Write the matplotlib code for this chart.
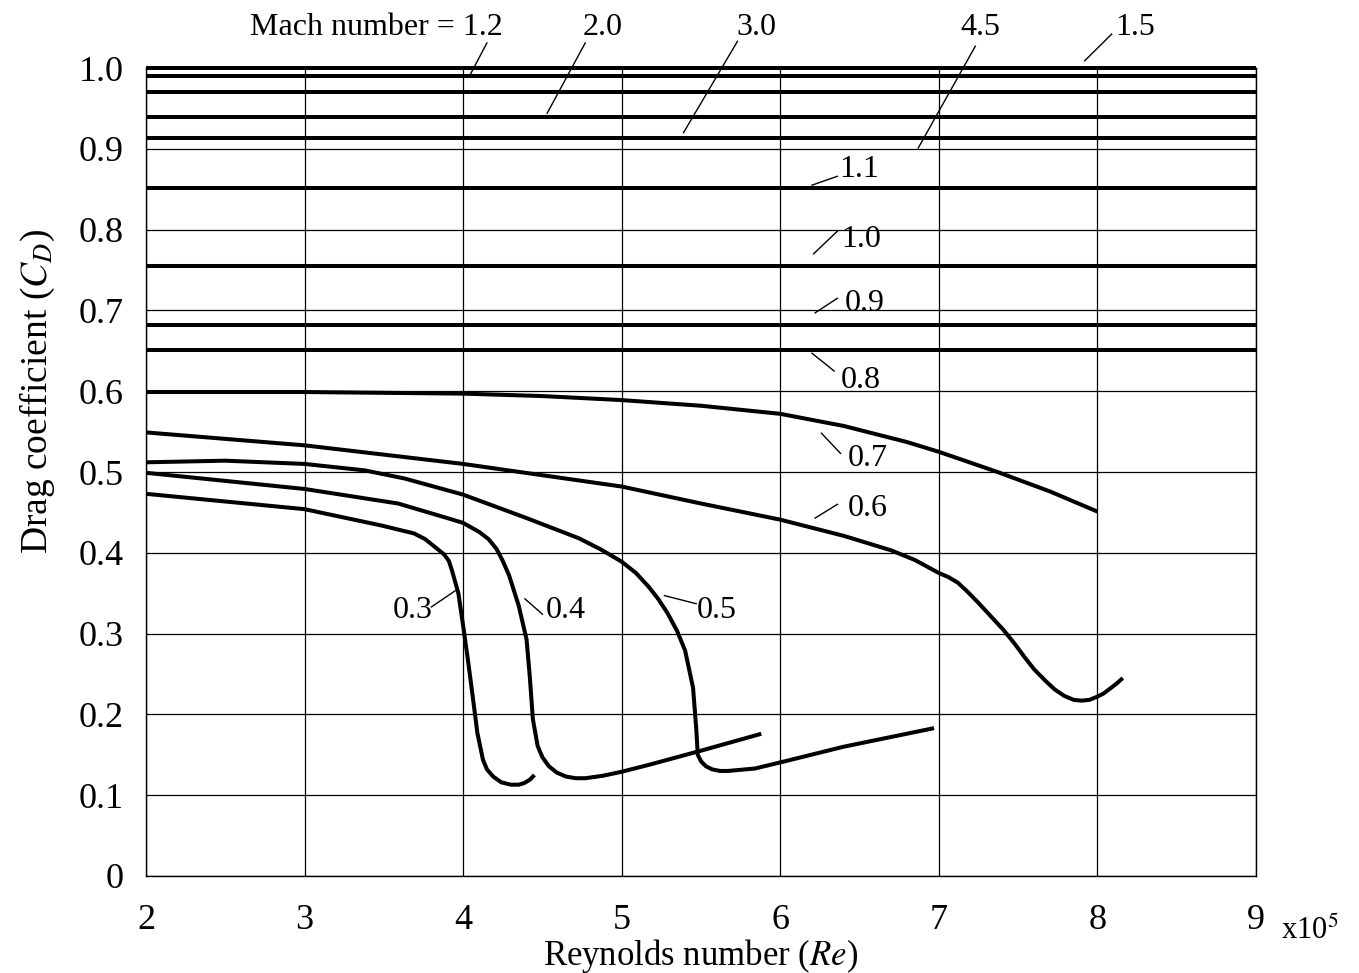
import numpy as np
from matplotlib import pyplot as plt
import matplotlib as mpl

mpl.rcParams['font.family'] = 'Liberation Serif'
mpl.rcParams['mathtext.fontset'] = 'stix'

# flat (high Mach) curves: Mach label -> drag coefficient
flat_mach = ['1.5', '1.2', '2.0', '3.0', '4.5', '1.1', '1.0', '0.9', '0.8']
flat_cd = [1.0, 0.99, 0.97, 0.939, 0.913, 0.852, 0.755, 0.682, 0.651]
flat_re = [2, 9]

# subsonic curves, Re in units of 1e5
re_07 = [2.0, 3.0, 4.0, 4.5, 5.0, 5.5, 6.0, 6.4, 6.8, 7.0, 7.37, 7.7, 8.0]
cd_07 = [0.599, 0.599, 0.597, 0.594, 0.589, 0.582, 0.572, 0.557, 0.537, 0.525, 0.500, 0.476, 0.451]

re_06 = [2.0, 3.0, 4.0, 5.0, 5.5, 6.0, 6.4, 6.7, 6.85, 7.0, 7.06, 7.12, 7.18, 7.25, 7.33, 7.41, 7.48,
         7.54, 7.60, 7.67, 7.73, 7.79, 7.85, 7.90, 7.95, 8.0, 8.04, 8.08, 8.12, 8.16]
cd_06 = [0.549, 0.533, 0.510, 0.482, 0.461, 0.441, 0.421, 0.403, 0.391, 0.375, 0.370, 0.363, 0.352, 0.338,
         0.321, 0.304, 0.287, 0.271, 0.256, 0.242, 0.231, 0.223, 0.218, 0.217, 0.218, 0.222, 0.226, 0.232,
         0.238, 0.245]

re_05 = [2.0, 2.5, 3.0, 3.38, 3.63, 4.0, 4.4, 4.73, 4.87, 5.0, 5.09, 5.17, 5.23, 5.29, 5.35, 5.40, 5.45,
         5.47, 5.48, 5.50, 5.53, 5.57, 5.62, 5.67, 5.84, 6.03, 6.4, 6.97]
cd_05 = [0.512, 0.514, 0.510, 0.502, 0.492, 0.472, 0.443, 0.418, 0.404, 0.389, 0.375, 0.358, 0.343, 0.325,
         0.303, 0.279, 0.233, 0.183, 0.150, 0.142, 0.136, 0.132, 0.130, 0.130, 0.133, 0.142, 0.160, 0.183]

re_04 = [2.0, 3.0, 3.59, 3.90, 4.0, 4.10, 4.16, 4.21, 4.25, 4.29, 4.35, 4.40, 4.42, 4.44, 4.47, 4.50, 4.54,
         4.59, 4.65, 4.71, 4.77, 4.88, 5.0, 5.17, 5.48, 5.88]
cd_04 = [0.499, 0.479, 0.461, 0.443, 0.437, 0.426, 0.417, 0.405, 0.390, 0.372, 0.335, 0.293, 0.248, 0.194,
         0.161, 0.147, 0.136, 0.128, 0.123, 0.121, 0.121, 0.124, 0.129, 0.1375, 0.154, 0.176]

re_03 = [2.0, 3.0, 3.48, 3.69, 3.76, 3.83, 3.88, 3.91, 3.93, 3.97, 4.0, 4.03, 4.06, 4.09, 4.125, 4.15, 4.19,
         4.24, 4.30, 4.35, 4.385, 4.42, 4.45]
cd_03 = [0.473, 0.454, 0.434, 0.424, 0.417, 0.406, 0.398, 0.390, 0.378, 0.350, 0.310, 0.268, 0.223, 0.177,
         0.144, 0.132, 0.123, 0.116, 0.113, 0.113, 0.115, 0.119, 0.125]

curves = [(re_07, cd_07), (re_06, cd_06), (re_05, cd_05), (re_04, cd_04), (re_03, cd_03)]

fig = plt.figure(figsize=(13.59, 9.73), dpi=100)
ax = fig.add_axes([0.1074, 0.0997, 0.8168, 0.8304])

lw = 2.9
for cd in flat_cd:
    ax.plot(flat_re, [cd, cd], color='black', lw=lw, clip_on=False, solid_capstyle='butt')
for re, cd in curves:
    ax.plot(re, cd, color='black', lw=lw, solid_capstyle='butt', solid_joinstyle='round')

ax.set_xlim(2, 9)
ax.set_ylim(0, 1.0)
ax.set_xticks(range(2, 10))
ax.set_yticks(np.arange(0, 1.01, 0.1))
ax.set_yticklabels(['0'] + ['%.1f' % v for v in np.arange(0.1, 1.01, 0.1)])
ax.grid(True, color='black', lw=0.9)
ax.tick_params(length=0, labelsize=26)
ax.tick_params(axis='x', pad=20)
ax.tick_params(axis='y', pad=16)
for s in ax.spines.values():
    s.set_linewidth(1.0)

ax.set_xlabel('Reynolds number ($Re$)', fontsize=25, labelpad=0)
ax.set_ylabel('Drag coefficient ($C_D$)', fontsize=27)
ax.yaxis.set_label_coords(-0.08, 0.60)
fig.text(0.964, 0.043, r'x10$^5$', fontsize=22, ha='center', va='center')

# labels with pointer lines: (text, text pos, pointer start, pointer end, ha)
labels = [
    ('Mach number = 1.2', (4.25, 1.05), (4.15, 1.031), (4.04, 0.990), 'right'),
    ('2.0', (4.88, 1.05), (4.77, 1.031), (4.53, 0.944), 'center'),
    ('3.0', (5.85, 1.05), (5.73, 1.033), (5.39, 0.920), 'center'),
    ('4.5', (7.26, 1.05), (7.23, 1.027), (6.87, 0.901), 'center'),
    ('1.5', (8.24, 1.05), (8.09, 1.042), (7.92, 1.009), 'center'),
    ('1.1', (6.50, 0.875), (6.36, 0.866), (6.20, 0.855), 'center'),
    ('1.0', (6.51, 0.788), (6.36, 0.798), (6.21, 0.770), 'center'),
    ('0.9', (6.53, 0.709), (6.36, 0.715), (6.22, 0.697), 'center'),
    ('0.8', (6.51, 0.613), (6.34, 0.625), (6.20, 0.647), 'center'),
    ('0.7', (6.55, 0.517), (6.38, 0.523), (6.26, 0.548), 'center'),
    ('0.6', (6.55, 0.455), (6.36, 0.460), (6.22, 0.443), 'center'),
    ('0.5', (5.60, 0.328), (5.47, 0.337), (5.27, 0.347), 'center'),
    ('0.4', (4.65, 0.328), (4.50, 0.324), (4.39, 0.343), 'center'),
    ('0.3', (3.68, 0.328), (3.80, 0.333), (3.95, 0.353), 'center'),
]
for txt, tpos, p0, p1, ha in labels:
    ax.text(tpos[0], tpos[1], txt, fontsize=23, ha=ha, va='center', clip_on=False)
    ax.plot([p0[0], p1[0]], [p0[1], p1[1]], color='black', lw=1.0, clip_on=False)

plt.savefig('out.png', dpi=100)
